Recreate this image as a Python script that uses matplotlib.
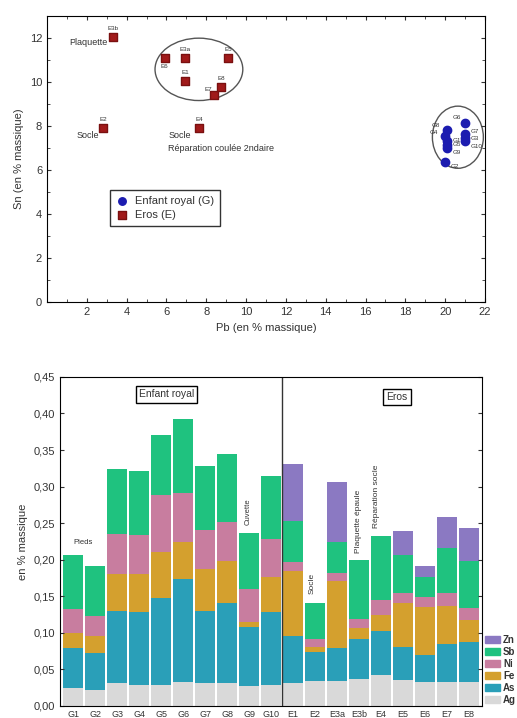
import numpy as np
import matplotlib
matplotlib.use("Agg")
import matplotlib.pyplot as plt
from matplotlib.patches import Ellipse, Patch
from matplotlib.ticker import FuncFormatter, MultipleLocator

plt.rcParams["font.family"] = ["Liberation Sans", "DejaVu Sans"]
plt.rcParams["text.color"] = "#333333"
plt.rcParams["axes.labelcolor"] = "#333333"
plt.rcParams["xtick.color"] = "#333333"
plt.rcParams["ytick.color"] = "#333333"

# --- scatter data (Pb, Sn) ---
g_labels = ["G1", "G2", "G3", "G4", "G5", "G6", "G7", "G8", "G9", "G10"]
g_pb = [20.1, 20.0, 21.0, 20.0, 20.1, 21.0, 21.0, 20.1, 20.1, 21.0]
g_sn = [7.33, 6.35, 7.44, 7.56, 7.15, 8.14, 7.64, 7.83, 6.98, 7.30]

e_labels = ["E1", "E2", "E3a", "E3b", "E4", "E5", "E6", "E7", "E8"]
e_pb = [6.93, 2.83, 6.93, 3.30, 7.65, 9.10, 5.91, 8.39, 8.73]
e_sn = [10.06, 7.92, 11.08, 12.06, 7.92, 11.08, 11.08, 9.41, 9.76]

# --- stacked bar data (en % massique) ---
samples = ["G1", "G2", "G3", "G4", "G5", "G6", "G7", "G8", "G9", "G10",
           "E1", "E2", "E3a", "E3b", "E4", "E5", "E6", "E7", "E8"]
ag = [.024, .021, .031, .028, .028, .033, .031, .031, .027, .029,
      .031, .034, .034, .037, .042, .035, .033, .032, .032]
as_ = [.055, .051, .099, .101, .120, .141, .099, .110, .081, .099,
       .064, .040, .045, .054, .061, .045, .037, .052, .055]
fe = [.021, .024, .051, .052, .062, .050, .057, .057, .007, .048,
      .089, .007, .092, .015, .021, .061, .065, .052, .030]
ni = [.032, .027, .054, .053, .078, .067, .054, .053, .045, .052,
      .013, .011, .011, .013, .021, .014, .014, .018, .017]
sb = [.075, .068, .089, .087, .083, .101, .087, .093, .077, .086,
      .056, .049, .042, .081, .088, .052, .027, .062, .064]
zn = [0, 0, 0, 0, 0, 0, 0, 0, 0, 0,
      .078, 0, .082, 0, 0, .032, .015, .042, .045]

elements = ["Ag", "As", "Fe", "Ni", "Sb", "Zn"]
colors = ["#d9d9d9", "#2a9fb8", "#d4a02e", "#c87d9f", "#1fc27f", "#8b79c2"]

fig = plt.figure(figsize=(5.17, 7.18), dpi=100)

# ---------- top: scatter ----------
ax1 = fig.add_axes([0.091, 0.579, 0.847, 0.399])
ax1.scatter(g_pb, g_sn, marker="o", s=36, color="#1c1cb0", label="Enfant royal (G)", zorder=3)
ax1.scatter(e_pb, e_sn, marker="s", s=36, color="#a11a1a", edgecolor="#7a1010",
            label="Eros (E)", zorder=3)

g_off = {"G1": (4, 0), "G2": (4, -3), "G3": (4, 0), "G4": (-8, 2), "G5": (4, 0),
         "G6": (-6, 4), "G7": (4, 2), "G8": (-8, 3), "G9": (4, -3), "G10": (4, -4)}
for lab, x, y in zip(g_labels, g_pb, g_sn):
    dx, dy = g_off[lab]
    ax1.annotate(lab, (x, y), xytext=(dx, dy), textcoords="offset points",
                 fontsize=4.5, ha="left" if dx > 0 else "center", va="center")
e_off = {"E1": (0, 6), "E2": (0, 6), "E3a": (0, 6), "E3b": (0, 6), "E4": (0, 6),
         "E5": (0, 6), "E6": (0, -6), "E7": (-4, 4), "E8": (0, 6)}
for lab, x, y in zip(e_labels, e_pb, e_sn):
    dx, dy = e_off[lab]
    ax1.annotate(lab, (x, y), xytext=(dx, dy), textcoords="offset points",
                 fontsize=4.5, ha="center", va="center")

ax1.text(1.1, 11.8, "Plaquette", fontsize=6.5, va="center")
ax1.text(1.5, 7.55, "Socle", fontsize=6.5, va="center")
ax1.text(6.1, 7.55, "Socle", fontsize=6.5, va="center")
ax1.text(6.1, 7.0, "Réparation coulée 2ndaire", fontsize=6.5, va="center")

ax1.add_patch(Ellipse((7.63, 10.57), 4.41, 2.83, fill=False, edgecolor="#555555", lw=1.0))
ax1.add_patch(Ellipse((20.64, 7.49), 2.56, 2.82, fill=False, edgecolor="#555555", lw=1.0))

ax1.set_xlim(0, 22)
ax1.set_ylim(0, 13)
ax1.set_xticks(range(2, 23, 2))
ax1.set_yticks(range(0, 13, 2))
ax1.xaxis.set_minor_locator(MultipleLocator(1))
ax1.yaxis.set_minor_locator(MultipleLocator(1))
ax1.tick_params(which="both", direction="in", top=True, right=True, labelsize=8)
ax1.tick_params(which="major", length=3)
ax1.tick_params(which="minor", length=2)
ax1.set_xlabel("Pb (en % massique)", fontsize=8)
ax1.set_ylabel("Sn (en % massique)", fontsize=8)
ax1.legend(loc="upper left", bbox_to_anchor=(0.13, 0.41), fontsize=8, frameon=True,
           fancybox=False, edgecolor="black", handletextpad=0.6, borderpad=0.5,
           handlelength=1.2, markerscale=0.9, labelspacing=0.4)

# ---------- bottom: stacked bars ----------
ax2 = fig.add_axes([0.116, 0.017, 0.817, 0.458])
x = np.arange(len(samples))
bottom = np.zeros(len(samples))
for name, vals, c in zip(elements, [ag, as_, fe, ni, sb, zn], colors):
    vals = np.array(vals)
    ax2.bar(x, vals, width=0.88, bottom=bottom, color=c, label=name)
    bottom += vals

ax2.axvline(9.5, color="#333333", lw=1.0)
ax2.set_xlim(-0.6, 18.6)
ax2.set_ylim(0, 0.45)
ax2.set_xticks(x)
ax2.set_xticklabels(samples)
ax2.yaxis.set_major_locator(MultipleLocator(0.05))
ax2.yaxis.set_major_formatter(FuncFormatter(lambda v, p: f"{v:.2f}".replace(".", ",")))
ax2.tick_params(axis="y", direction="in", right=True, labelsize=8, length=3)
ax2.tick_params(axis="x", length=0, labelsize=6.5, pad=3)
ax2.set_ylabel("en % massique", fontsize=8)

ax2.text(4.24, 0.426, "Enfant royal", fontsize=7.5, ha="center", va="center",
         bbox=dict(boxstyle="square,pad=0.3", fc="white", ec="black", lw=1))
ax2.text(14.73, 0.423, "Eros", fontsize=7.5, ha="center", va="center",
         bbox=dict(boxstyle="square,pad=0.3", fc="white", ec="black", lw=1))
ax2.text(0.45, 0.224, "Pieds", fontsize=5.5, ha="center", va="center")
ax2.text(7.97, 0.265, "Cuvette", fontsize=5.5, ha="center", va="center", rotation=90)
ax2.text(10.86, 0.168, "Socle", fontsize=6, ha="center", va="center", rotation=90)
ax2.text(12.97, 0.253, "Plaquette épaule", fontsize=6, ha="center", va="center", rotation=90)
ax2.text(13.8, 0.287, "Réparation socle", fontsize=6, ha="center", va="center", rotation=90)

handles = [Patch(color=c, label=n) for n, c in zip(elements, colors)][::-1]
leg = ax2.legend(handles=handles, loc="lower left", bbox_to_anchor=(1.005, 0.0),
                 frameon=False, fontsize=7, handlelength=1.5, handleheight=0.8,
                 labelspacing=0.2, handletextpad=0.3, borderaxespad=0, borderpad=0.1)
for t in leg.get_texts():
    t.set_fontweight("bold")

fig.savefig("out.png", dpi=100)
